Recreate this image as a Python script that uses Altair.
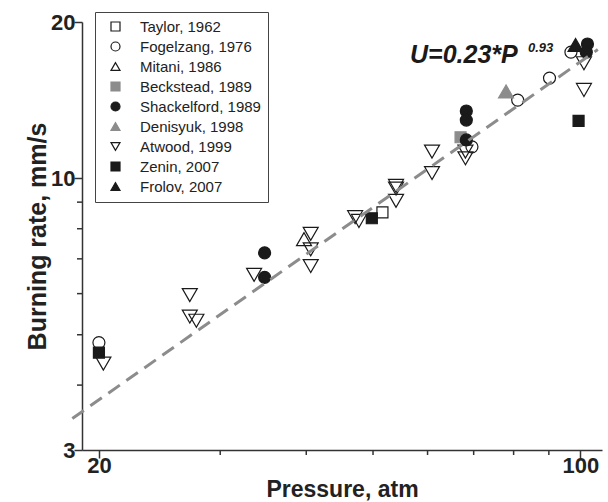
import altair as alt
import pandas as pd

series_names = ["Taylor, 1962", "Fogelzang, 1976", "Mitani, 1986", "Beckstead, 1989",
                "Shackelford, 1989", "Denisyuk, 1998", "Atwood, 1999", "Zenin, 2007", "Frolov, 2007"]

taylor_p = [51.6]
taylor_u = [8.6]
fogelzang_p = [20.0, 69.6, 81.1, 90.2, 96.9]
fogelzang_u = [4.83, 11.5, 14.15, 15.6, 17.5]
mitani_p = [39.7]
mitani_u = [7.64]
beckstead_p = [67.0]
beckstead_u = [12.0]
shackelford_p = [34.8, 34.8, 68.3, 68.3, 68.3, 102.4, 102.0]
shackelford_u = [7.19, 6.45, 13.48, 12.95, 11.86, 18.14, 17.5]
denisyuk_p = [78.0]
denisyuk_u = [14.7]
atwood_p = [20.3, 27.1, 27.1, 27.7, 33.6, 40.6, 40.6, 40.6, 47.1, 47.7,
            54.0, 54.0, 54.0, 60.9, 60.9, 68.1, 68.1, 101.2, 101.2]
atwood_u = [4.40, 5.96, 5.42, 5.32, 6.52, 7.82, 7.30, 6.78, 8.42, 8.28,
            9.67, 9.56, 9.05, 11.26, 10.24, 11.26, 10.93, 16.66, 14.80]
zenin_p = [20.0, 49.8, 99.4]
zenin_u = [4.62, 8.38, 12.9]
frolov_p = [98.4]
frolov_u = [18.06]

fit_p = [18.3, 106.0]
fit_u = [3.45, 17.7]

x_major = [20, 100]
x_minor = [30, 40, 50, 60, 70, 80, 90]
y_major = [3, 10, 20]
y_minor = [4, 5, 6, 7, 8, 9]

fit_label = "U=0.23*P"
fit_exp = "0.93"

all_p = [taylor_p, fogelzang_p, mitani_p, beckstead_p, shackelford_p, denisyuk_p, atwood_p, zenin_p, frolov_p]
all_u = [taylor_u, fogelzang_u, mitani_u, beckstead_u, shackelford_u, denisyuk_u, atwood_u, zenin_u, frolov_u]

shapes = ["square", "circle", "triangle-up", "square", "circle", "triangle-up",
          "triangle-down", "square", "triangle-up"]
BLK = "#1a1a1a"
GRY = "#8c8c8c"
AX = "#333333"
fills = ["transparent", "transparent", "transparent", GRY, BLK, GRY, "transparent", BLK, BLK]
strokes = [BLK, BLK, BLK, GRY, BLK, GRY, BLK, BLK, BLK]
sizes = [121, 144, 225, 121, 144, 225, 225, 121, 225]

rows = []
for i, (name, ps, us) in enumerate(zip(series_names, all_p, all_u)):
    for p, u in zip(ps, us):
        rows.append({"series": name, "P": p, "U": u, "idx": len(rows), "sz": sizes[i]})
df = pd.DataFrame(rows)

FONT = "Liberation Sans"

x_scale = alt.Scale(type="log", domain=[18.9, 107.5], nice=False, zero=False)
y_scale = alt.Scale(type="log", domain=[3, 20], nice=False, zero=False)

x_axis = alt.Axis(
    values=x_major, format="d",
    title="Pressure, atm",
    titleFont=FONT, titleFontSize=23, titleFontWeight="bold", titleColor="#222",
    labelFont=FONT, labelFontSize=22, labelFontWeight="bold", labelColor="#222",
    grid=False, domainColor=AX, domainWidth=1.5, tickColor=AX, tickWidth=1.5,
    tickSize=8, labelPadding=-3, titlePadding=2,
)
y_axis = alt.Axis(
    values=y_major, format="d",
    title="Burning rate, mm/s",
    titleFont=FONT, titleFontSize=25, titleFontWeight="bold", titleColor="#222",
    labelFont=FONT, labelFontSize=22, labelFontWeight="bold", labelColor="#222",
    grid=False, domainColor=AX, domainWidth=1.5, tickColor=AX, tickWidth=1.5,
    tickSize=8, labelPadding=-1, titlePadding=0,
)

leg = alt.Legend(
    title=None, orient="none", legendX=13, legendY=-10,
    strokeColor="#444444", padding=7, fillColor="white",
    labelFont=FONT, labelFontSize=15, labelColor="#222",
    symbolSize=81, symbolStrokeWidth=1.2, symbolOffset=6,
    rowPadding=4, labelOffset=17,
)

points = alt.Chart(df).mark_point(filled=True, opacity=1, fillOpacity=1, strokeWidth=1.2, clip=False).encode(
    x=alt.X("P:Q", scale=x_scale, axis=x_axis),
    y=alt.Y("U:Q", scale=y_scale, axis=y_axis),
    shape=alt.Shape("series:N", scale=alt.Scale(domain=series_names, range=shapes), legend=leg),
    fill=alt.Fill("series:N", scale=alt.Scale(domain=series_names, range=fills), legend=leg),
    stroke=alt.Stroke("series:N", scale=alt.Scale(domain=series_names, range=strokes), legend=leg),
    size=alt.Size("sz:Q", scale=None),
    order=alt.Order("idx:Q"),
)

x_minor_ticks = alt.Chart(pd.DataFrame({"P": x_minor})).mark_rule(
    color=AX, strokeWidth=1.5, clip=False
).encode(
    x=alt.X("P:Q", scale=x_scale, axis=x_axis),
    y=alt.value(428), y2=alt.value(433),
)
y_minor_ticks = alt.Chart(pd.DataFrame({"U": y_minor})).mark_rule(
    color=AX, strokeWidth=1.5, clip=False
).encode(
    y=alt.Y("U:Q", scale=y_scale, axis=y_axis),
    x=alt.value(-5), x2=alt.value(0),
)

line = alt.Chart(pd.DataFrame({"P": fit_p, "U": fit_u})).mark_line(
    color=GRY, strokeWidth=3, strokeDash=[14, 8], clip=False
).encode(
    x=alt.X("P:Q", scale=x_scale, axis=x_axis),
    y=alt.Y("U:Q", scale=y_scale, axis=y_axis),
)

label_df = pd.DataFrame({"main": [fit_label], "exp": [fit_exp]})
text_main = alt.Chart(label_df).mark_text(
    align="left", baseline="alphabetic", font=FONT, fontSize=25, fontWeight="bold",
    fontStyle="italic", color=BLK
).encode(x=alt.value(328), y=alt.value(41), text="main:N")
text_exp = alt.Chart(label_df).mark_text(
    align="left", baseline="alphabetic", font=FONT, fontSize=13, fontWeight="bold",
    fontStyle="italic", color=BLK
).encode(x=alt.value(446), y=alt.value(30), text="exp:N")

chart = alt.layer(points, x_minor_ticks, y_minor_ticks, line, text_main, text_exp).properties(
    width=520, height=428, autosize="none",
    padding={"left": 82, "top": 22, "right": 6, "bottom": 52},
    background="white",
).configure_view(stroke=None)

chart.save("out.html", embed_options={"renderer": "svg", "actions": False})
